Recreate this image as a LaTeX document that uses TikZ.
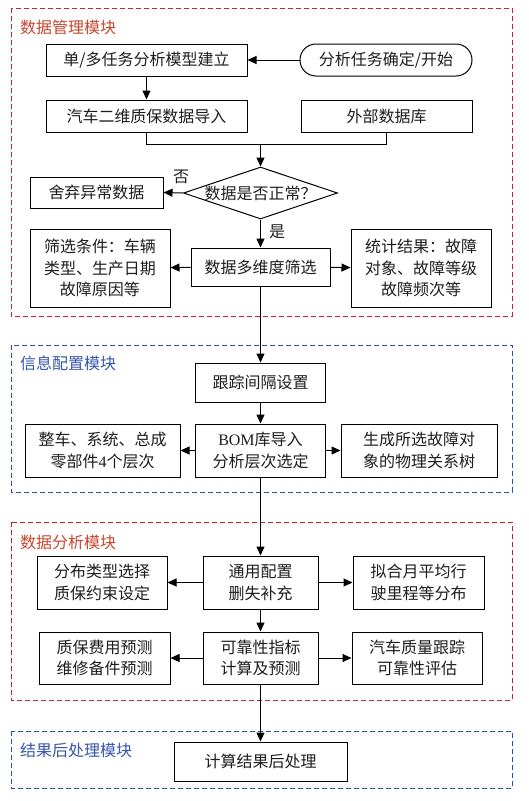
\documentclass[tikz,border=0pt]{standalone}
\usepackage{fontspec}
\setmainfont{Liberation Serif}
\newfontfamily\cjk{Noto Sans CJK SC}
\usetikzlibrary{arrows.meta,shapes.geometric}
\definecolor{modred}{RGB}{200,35,40}
\definecolor{titred}{RGB}{200,70,45}
\definecolor{modblue}{RGB}{40,80,170}
\definecolor{titblue}{RGB}{55,85,170}
\definecolor{ink}{RGB}{30,30,30}
\newcommand{\lat}[1]{{\rmfamily #1}}
\begin{document}
\begin{tikzpicture}[x=1pt,y=-1pt,
  bx/.style 2 args={draw=black,line width=1pt,minimum width=#1pt,minimum height=#2pt,inner sep=0pt,align=center,text=ink,font=\cjk\fontsize{16}{21.5}\selectfont},
  arr/.style={-{Triangle[length=9pt,width=8pt]},line width=1pt},
  ln/.style={line width=1pt},
  modr/.style={draw=modred,dash pattern=on 5pt off 3pt,line width=1pt},
  modb/.style={draw=modblue,dash pattern=on 5pt off 3pt,line width=1pt},
  tit/.style={anchor=west,inner sep=0pt,font=\cjk\fontsize{16}{16}\selectfont},
  lab/.style={inner sep=0pt,text=ink,font=\cjk\fontsize{16}{16}\selectfont}]
\useasboundingbox (0,0) rectangle (528,801);
\fill[white] (0,0) rectangle (528,801);

% module frames
\draw[modr] (11,8) rectangle (512,316);
\draw[modb] (11,345) rectangle (512,492);
\draw[modr] (11,522) rectangle (512,700);
\draw[modb] (11,731) rectangle (512,788);
\node[tit,text=titred] (m1) at (20,27) {数据管理模块};
\node[tit,text=titblue] (m2) at (20,363) {信息配置模块};
\node[tit,text=titred] (m3) at (20,542) {数据分析模块};
\node[tit,text=titblue] (m4) at (20,750) {结果后处理模块};

% data management
\node[bx={201}{32}] (t1) at (146.5,60) {单/多任务分析模型建立};
\node[bx={172}{32},rounded corners=16pt] (st) at (386,60) {分析任务确定/开始};
\node[bx={201}{32}] (t2) at (146.5,116) {汽车二维质保数据导入};
\node[bx={171}{32}] (ext) at (386.5,116) {外部数据库};
\node[diamond,draw=black,line width=1pt,minimum width=154pt,minimum height=52pt,inner sep=0pt,text=ink,font=\cjk\fontsize{16}{16}\selectfont] (dia) at (260.5,193) {\makebox[0pt]{数据是否正常？}};
\node[bx={133}{31}] (drop) at (96.5,192.5) {舍弃异常数据};
\node[bx={139}{38}] (filt) at (260.5,267) {数据多维度筛选};
\node[bx={140}{78}] (cond) at (100,268) {筛选条件：车辆\\类型、生产日期\\故障原因等};
\node[bx={140}{78}] (stat) at (421,268) {统计结果：故障\\对象、故障等级\\故障频次等};
\coordinate (mrg) at (260.5,144);
\node[lab] (no) at (181,177) {否};
\node[lab] (yes) at (277,232) {是};

\draw[arr] (st) -- (t1);
\draw[arr] (t1) -- (t2);
\draw[ln] (t2.south) |- (mrg);
\draw[ln] (ext.south) |- (mrg);
\draw[arr] (mrg) -- (dia.north);
\draw[arr] (dia.west) -- (drop.east);
\draw[arr] (dia.south) -- (filt.north);
\draw[arr] (filt) -- (cond);
\draw[arr] (filt) -- (stat);

% info config
\node[bx={130}{39}] (track) at (260.5,382.5) {跟踪间隔设置};
\node[bx={130}{53}] (bom) at (260.5,450.5) {\lat{BOM}库导入\\分析层次选定};
\node[bx={155}{53}] (lvl) at (102.5,450.5) {整车、系统、总成\\零部件\lat{4}个层次};
\node[bx={156}{53}] (tree) at (419,450.5) {生成所选故障对\\象的物理关系树};
\draw[arr] (filt) -- (track);
\draw[arr] (track) -- (bom);
\draw[arr] (bom) -- (lvl);
\draw[arr] (bom) -- (tree);

% analysis
\node[bx={115}{53}] (gen) at (260.5,582.5) {通用配置\\删失补充};
\node[bx={130}{53}] (dist) at (102,582.5) {分布类型选择\\质保约束设定};
\node[bx={131}{53}] (fit) at (418.5,582.5) {拟合月平均行\\驶里程等分布};
\node[bx={115}{52}] (rel) at (260.5,658) {可靠性指标\\计算及预测};
\node[bx={131}{52}] (cost) at (104.5,658) {质保费用预测\\维修备件预测};
\node[bx={130}{52}] (qual) at (417,658) {汽车质量跟踪\\可靠性评估};
\draw[arr] (bom) -- (gen);
\draw[arr] (gen) -- (dist);
\draw[arr] (gen) -- (fit);
\draw[arr] (gen) -- (rel);
\draw[arr] (rel) -- (cost);
\draw[arr] (rel) -- (qual);

% post
\node[bx={173}{39}] (post) at (260.5,761.5) {计算结果后处理};
\draw[arr] (rel) -- (post);
\end{tikzpicture}
\end{document}
